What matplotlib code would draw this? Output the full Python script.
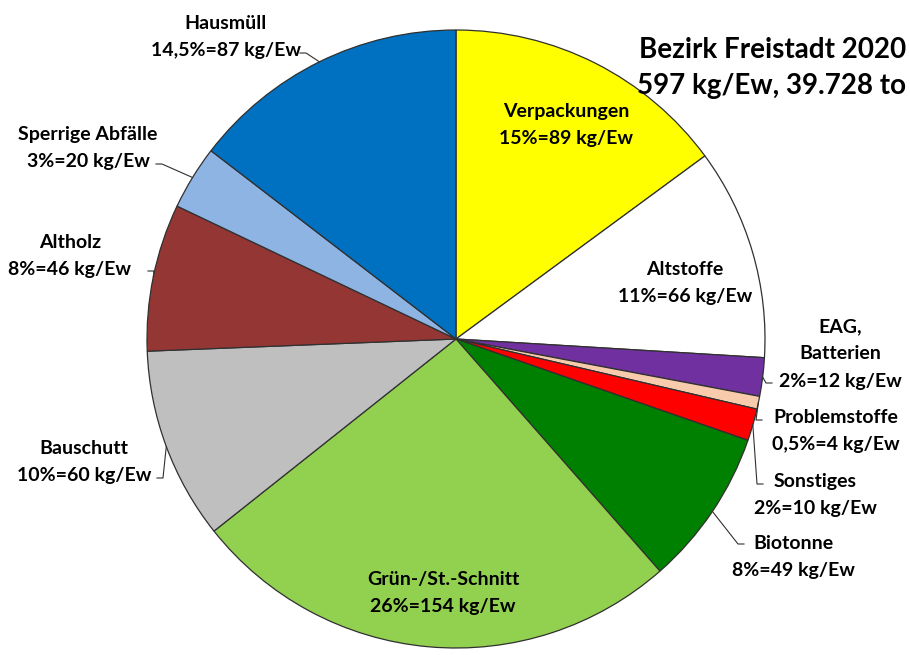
import numpy as np
import matplotlib.pyplot as plt

# Abfallmengen Bezirk Freistadt 2020 (kg pro Einwohner)
namen = ['Verpackungen', 'Altstoffe', 'EAG,\nBatterien', 'Problemstoffe', 'Sonstiges',
         'Biotonne', 'Grün-/St.-Schnitt', 'Bauschutt', 'Altholz', 'Sperrige Abfälle', 'Hausmüll']
werte = [89, 66, 12, 4, 10, 49, 154, 60, 46, 20, 87]
prozent = ['15%', '11%', '2%', '0,5%', '2%', '8%', '26%', '10%', '8%', '3%', '14,5%']
farben = ['#FFFF00', '#FFFFFF', '#7030A0', '#F8CBAD', '#FF0000', '#008000',
          '#92D050', '#BFBFBF', '#943634', '#8EB4E3', '#0070C0']
titel = 'Bezirk Freistadt 2020\n597 kg/Ew, 39.728 to'

plt.rcParams['font.family'] = ['Lato', 'DejaVu Sans']
plt.rcParams['font.weight'] = 'bold'

fig = plt.figure(figsize=(9.1, 6.55), dpi=100)
ax = fig.add_axes([0, 0, 1, 1])

# Mittelpunkt und Radius in Pixeln
cx, cy, R = 456, 339, 309

def p(x, y):
    return (x - cx) / R, (cy - y) / R

ax.pie(werte, colors=farben, startangle=90, counterclock=False, radius=1.0,
       wedgeprops=dict(edgecolor='#303030', linewidth=0.9))
ax.set_xlim(-cx / R, (910 - cx) / R)
ax.set_ylim(-(655 - cy) / R, cy / R)
ax.set_aspect('equal')
ax.axis('off')

# Position der Beschriftung (Pixel), Ende der Führungslinie (None = innen)
lagen = [
    ((566, 125), None),
    ((685, 283), None),
    ((840, 354), (772, 383)),
    ((836, 431), (762, 420)),
    ((815, 495), (763, 484)),
    ((793, 557), (744, 544)),
    ((443, 593), None),
    ((84, 462), (157, 478)),
    ((70, 256), (148, 271)),
    ((88, 148), (156, 164)),
    ((226, 37), (300, 53)),
]

ges = sum(werte)
kum = 0
for i, w in enumerate(werte):
    mitte = (kum + w / 2) / ges * 360
    kum += w
    a = np.deg2rad(90 - mitte)
    ex, ey = np.cos(a), np.sin(a)
    (tx, ty), ende = lagen[i]
    txt = namen[i] + '\n' + prozent[i] + '=' + str(w) + ' kg/Ew'
    x, y = p(tx, ty)
    ax.text(x, y, txt, ha='center', va='center', fontsize=14, fontweight='bold',
            linespacing=1.75, color='black')
    if ende is not None:
        lx, ly = p(*ende)
        s = 1 if lx > ex else -1
        ax.plot([ex, lx - s * 6 / R, lx], [ey, ly, ly], color='#303030', lw=0.8)

x, y = p(906, 68)
ax.text(x, y, titel, ha='right', va='center', fontsize=20, fontweight='bold',
        linespacing=1.45)

fig.savefig('out.png', dpi=100)
